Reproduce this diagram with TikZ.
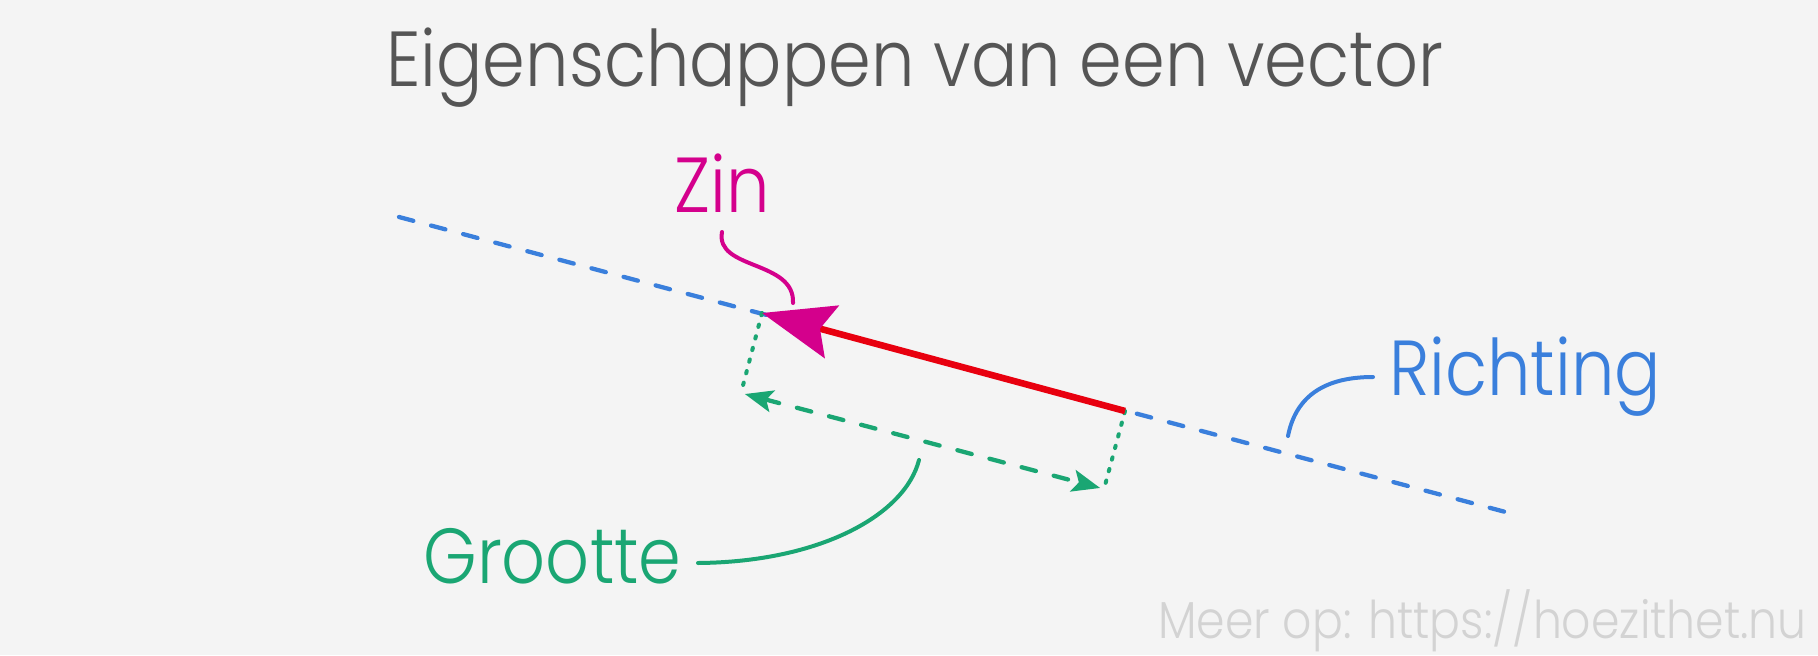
\documentclass[tikz,border=0pt]{standalone}
\usepackage{fontspec}
\setmainfont{Poppins}[UprightFont=* Light,FakeStretch=0.88]
\usetikzlibrary{arrows.meta}
\definecolor{achtergrond}{HTML}{F4F4F4}
\definecolor{titelgrijs}{HTML}{555555}
\definecolor{lichtgrijs}{HTML}{D3D3D3}
\definecolor{richtingblauw}{HTML}{3A7FDC}
\definecolor{grootegroen}{HTML}{1AA673}
\definecolor{zinmagenta}{HTML}{D4008C}
\definecolor{vectorrood}{HTML}{E8000F}
\begin{document}
\begin{tikzpicture}[x=0.5pt,y=0.5pt,
		tekst/.style={anchor=base west,inner sep=0pt,font=\fontsize{39}{45}\selectfont},
		lijn/.style={line width=2pt,line cap=round},
		streep/.style={line width=2.15pt,line cap=round,dash pattern=on 7.4pt off 9.2pt},
		stip/.style={line width=2pt,line cap=round,dash pattern=on 1.2pt off 4.8pt}]
				\fill[achtergrond] (0,0) rectangle (1818,655);
				\useasboundingbox (0,0) rectangle (1818,655);
				\node[tekst,text=titelgrijs] (titel) at (386,568) {Eigenschappen van een vector};
				\node[tekst,text=lichtgrijs,font=\fontsize{26}{31}\selectfont] (bron) at (1158,17) {Meer op: https://hoezithet.nu};
				\node[tekst,text=zinmagenta,anchor=base] (zin) at (722,443) {Zin};
				\node[tekst,text=richtingblauw] (richting) at (1389,260) {Richting};
				\node[tekst,text=grootegroen] (grootte) at (423,72) {Grootte};
				\coordinate (A) at (399,438);
				\coordinate (B) at (1513,141);
				\coordinate (T) at (762,342);
				\coordinate (E) at (1125,244);
				\coordinate (L) at (741,262);
				\coordinate (R) at (1104,166);
				\coordinate (Z) at (793,352);
				\coordinate (Q) at (1288,219);
				\coordinate (G) at (919,195);
				\draw[streep,richtingblauw] (A) to (B);
				\begin{scope}[grootegroen]
					\draw[stip] (T) to (L);
					\draw[stip] (E) to (R);
					\draw[streep,shorten <=2pt,shorten >=2pt,{Stealth[length=14pt,width=11pt,inset=3pt]}-{Stealth[length=14pt,width=11pt,inset=3pt]}] (L) to (R);
				\end{scope}
				\draw[line width=3.3pt,vectorrood,-{Stealth[length=36pt,width=27pt,inset=6pt,color=zinmagenta]}] (E) to (T);
				\draw[lijn,zinmagenta] ([yshift=-10pt]zin.base) .. controls (715,385) and (795,395) .. (Z);
				\draw[lijn,richtingblauw] ([xshift=-8pt,yshift=9pt]richting.base west) .. controls (1320,278) and (1295,255) .. (Q);
				\draw[lijn,grootegroen] ([xshift=8pt,yshift=10pt]grootte.base east) .. controls (820,93) and (905,140) .. (G);
			\end{tikzpicture}
\end{document}
